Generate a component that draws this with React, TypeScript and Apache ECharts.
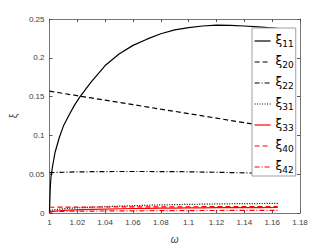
import React, { useEffect, useRef } from "react";
import * as echarts from "echarts";

const omega = [1, 1.0005, 1.001, 1.002, 1.004, 1.007, 1.01, 1.014, 1.018, 1.022, 1.03, 1.04, 1.05, 1.06, 1.07, 1.08, 1.09, 1.1, 1.11, 1.12, 1.13, 1.14, 1.15, 1.164];

const xi11 = [0, 0.03, 0.045, 0.058, 0.078, 0.097, 0.112, 0.126, 0.139, 0.15, 0.169, 0.19, 0.205, 0.216, 0.224, 0.231, 0.236, 0.239, 0.241, 0.242, 0.2418, 0.241, 0.2398, 0.2378];
const xi20 = [0.157, 0.1569, 0.1567, 0.1564, 0.1558, 0.155, 0.1541, 0.1529, 0.1518, 0.1506, 0.1483, 0.1454, 0.1425, 0.1396, 0.1367, 0.1338, 0.131, 0.128, 0.1251, 0.1222, 0.1193, 0.1164, 0.1135, 0.1095];
const xi22 = [0.052, 0.052, 0.052, 0.0521, 0.0522, 0.0523, 0.0525, 0.0527, 0.0529, 0.053, 0.0532, 0.0534, 0.0535, 0.0535, 0.0535, 0.0534, 0.0533, 0.0531, 0.0528, 0.0525, 0.0521, 0.0517, 0.0512, 0.0503];
const xi31 = [0.003, 0.0032, 0.0034, 0.0038, 0.0043, 0.005, 0.0055, 0.006, 0.0064, 0.0068, 0.0074, 0.0081, 0.0088, 0.0094, 0.0099, 0.0104, 0.0108, 0.0111, 0.0114, 0.0117, 0.0119, 0.0121, 0.0122, 0.0124];
const xi33 = [0, 0.0008, 0.0012, 0.0017, 0.0023, 0.0029, 0.0033, 0.0037, 0.004, 0.0043, 0.0047, 0.0051, 0.0055, 0.0058, 0.006, 0.0062, 0.0064, 0.0066, 0.0067, 0.0068, 0.0069, 0.007, 0.007, 0.0071];
const xi40 = [0.0074, 0.0074, 0.0074, 0.0074, 0.0074, 0.0075, 0.0075, 0.0075, 0.0076, 0.0076, 0.0077, 0.0077, 0.0078, 0.0078, 0.0079, 0.0079, 0.008, 0.008, 0.0081, 0.0081, 0.0082, 0.0082, 0.0083, 0.0083];
const xi42 = [0.002, 0.002, 0.002, 0.0021, 0.0021, 0.0022, 0.0022, 0.0023, 0.0024, 0.0024, 0.0025, 0.0026, 0.0027, 0.0028, 0.0029, 0.003, 0.003, 0.0031, 0.0032, 0.0032, 0.0033, 0.0033, 0.0034, 0.0034];

const seriesNames = ["ξ11", "ξ20", "ξ22", "ξ31", "ξ33", "ξ40", "ξ42"];
const seriesData = [xi11, xi20, xi22, xi31, xi33, xi40, xi42];
const seriesColors = ["#000000", "#000000", "#000000", "#000000", "#ff0000", "#ff0000", "#ff0000"];
const seriesDash: any[] = ["solid", [5, 3], [5, 2, 1, 2], [1, 1.5], "solid", [5, 3], [5, 2, 1, 2]];

export default function App() {
  const ref = useRef<HTMLDivElement>(null);
  useEffect(() => {
    const chart = echarts.init(ref.current!, null, { renderer: "svg" });
    const axisColor = "#555555";
    const labelColor = "#404040";
    const fmt = (v: number) => String(parseFloat(v.toFixed(2)));
    chart.setOption({
      animation: false,
      backgroundColor: "#ffffff",
      grid: { left: 43, right: 32, top: 19, bottom: 28 },
      legend: {
        orient: "vertical",
        left: 252,
        top: 28,
        width: 40,
        padding: [5, 2, 2, 2],
        itemGap: 6,
        itemWidth: 16,
        itemHeight: 10,
        backgroundColor: "#ffffff",
        borderColor: "#a0a0a0",
        borderWidth: 1,
        borderRadius: 0,
        data: seriesNames,
        itemStyle: { opacity: 0 },
        lineStyle: { width: 1.2 },
        formatter: (name: string) => `{a|ξ}{b|${name.slice(1)}}`,
        textStyle: {
          rich: {
            a: { fontSize: 12, color: "#000", fontFamily: "DejaVu Sans", verticalAlign: "top", lineHeight: 14 },
            b: { fontSize: 9, color: "#000", fontFamily: "DejaVu Sans", verticalAlign: "bottom", lineHeight: 14, padding: [6, 0, 0, 0] },
          },
        },
      },
      xAxis: [
        {
          type: "value",
          min: 1,
          max: 1.18,
          interval: 0.02,
          name: "ω",
          nameLocation: "middle",
          nameGap: 21,
          nameTextStyle: { fontSize: 10, color: labelColor, fontStyle: "italic" },
          axisLine: { lineStyle: { color: axisColor, width: 0.8 } },
          axisTick: { inside: true, length: 3, lineStyle: { color: axisColor } },
          axisLabel: { fontSize: 8, color: labelColor, margin: 5, formatter: fmt },
          splitLine: { show: false },
        },
        {
          type: "value",
          min: 1,
          max: 1.18,
          interval: 0.02,
          position: "top",
          axisLine: { onZero: false, lineStyle: { color: axisColor, width: 0.8 } },
          axisTick: { inside: true, length: 3, lineStyle: { color: axisColor } },
          axisLabel: { show: false },
          splitLine: { show: false },
        },
      ],
      yAxis: [
        {
          type: "value",
          min: 0,
          max: 0.25,
          interval: 0.05,
          name: "ξ",
          nameLocation: "middle",
          nameGap: 27,
          nameTextStyle: { fontSize: 10, color: labelColor },
          axisLine: { show: true, lineStyle: { color: axisColor, width: 0.8 } },
          axisTick: { show: true, inside: true, length: 3, lineStyle: { color: axisColor } },
          axisLabel: { fontSize: 8, color: labelColor, margin: 5, formatter: fmt },
          splitLine: { show: false },
        },
        {
          type: "value",
          min: 0,
          max: 0.25,
          interval: 0.05,
          position: "right",
          axisLine: { show: true, onZero: false, lineStyle: { color: axisColor, width: 0.8 } },
          axisTick: { show: true, inside: true, length: 3, lineStyle: { color: axisColor } },
          axisLabel: { show: false },
          splitLine: { show: false },
        },
      ],
      series: seriesNames.map((name, i) => ({
        name,
        type: "line",
        xAxisIndex: 0,
        yAxisIndex: 0,
        showSymbol: false,
        symbol: "none",
        smooth: false,
        data: omega.map((w, j) => [w, seriesData[i][j]]),
        lineStyle: { color: seriesColors[i], width: 1.2, type: seriesDash[i] },
        itemStyle: { color: seriesColors[i] },
      })),
    });
    return () => chart.dispose();
  }, []);
  return <div ref={ref} style={{ position: "fixed", left: 0, top: 0, width: 332, height: 249 }} />;
}
